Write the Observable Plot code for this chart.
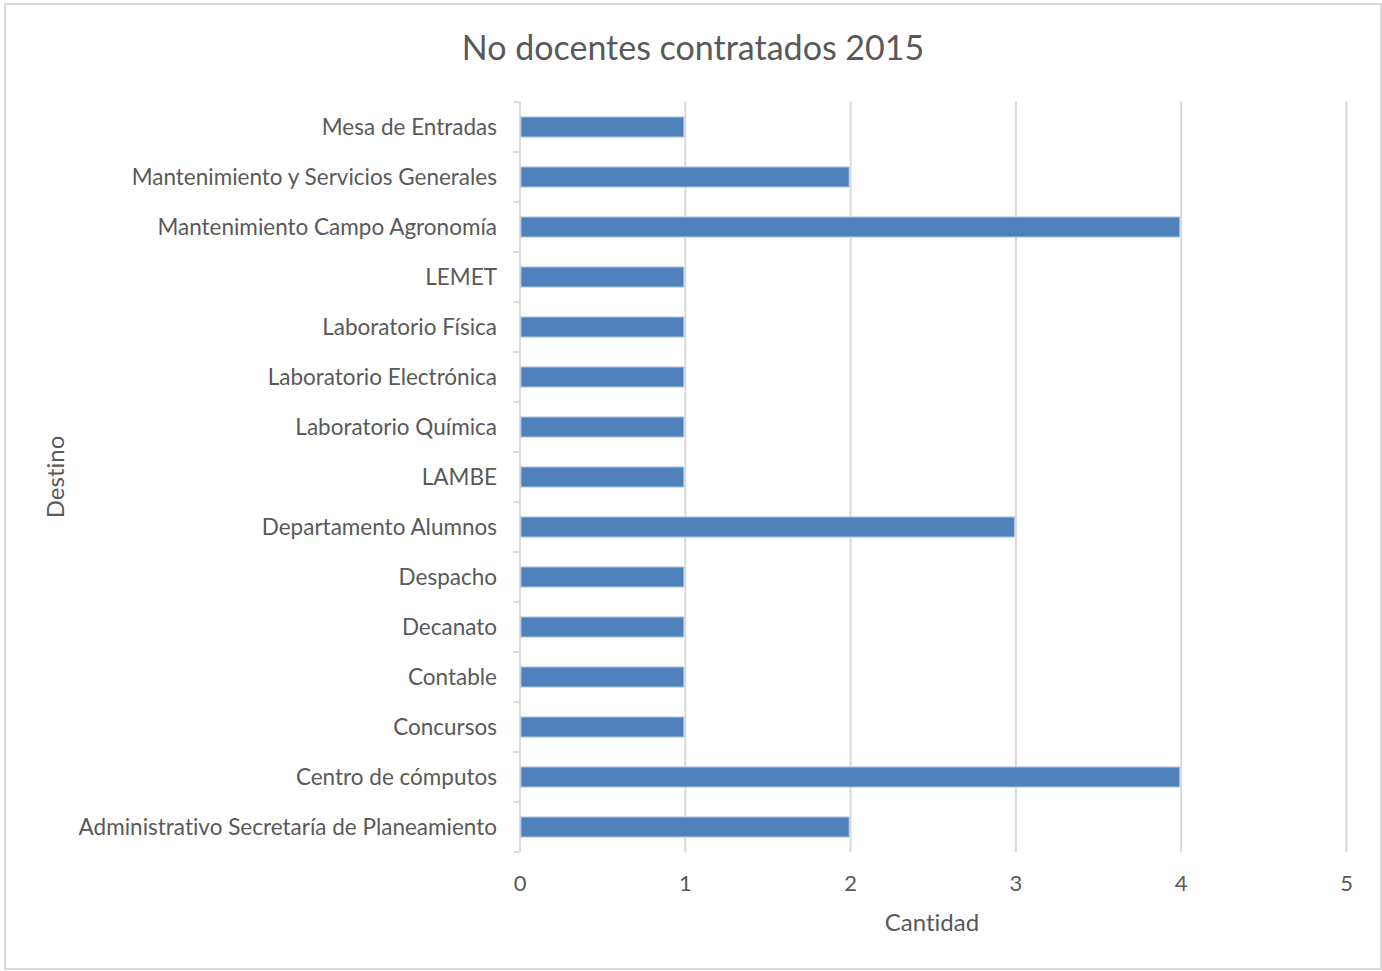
<!DOCTYPE html>
<html><head><meta charset="utf-8">
<script src="https://cdn.jsdelivr.net/npm/d3@7"></script>
<script src="https://cdn.jsdelivr.net/npm/@observablehq/plot@0.6"></script>
<style>
body{margin:0;background:#fff;}
#wrap{position:relative;width:1382px;height:971px;overflow:hidden;font-family:Lato,"Open Sans",sans-serif;color:#595959;font-variant-ligatures:none;}
#border{position:absolute;left:4px;top:3px;width:1378px;height:967px;border:2px solid #d9d9d9;box-sizing:border-box;}
#chart{position:absolute;left:0;top:0;}
#chart svg text{font-variant-ligatures:none;}
.lbl{position:absolute;white-space:nowrap;line-height:1;}
#title{left:693px;top:47px;transform:translate(-50%,-50%);font-size:34px;}
#xlab{left:932px;top:922px;transform:translate(-50%,-50%);font-size:24px;}
#ylab{left:55px;top:477px;transform:translate(-50%,-50%) rotate(-90deg);font-size:24px;}
</style></head>
<body>
<div id="wrap">
  <div id="border"></div>
  <div id="chart"></div>
  <div class="lbl" id="title">No docentes contratados 2015</div>
  <div class="lbl" id="xlab">Cantidad</div>
  <div class="lbl" id="ylab">Destino</div>
</div>
<script>
const categories = [
  "Mesa de Entradas",
  "Mantenimiento y Servicios Generales",
  "Mantenimiento Campo Agronomía",
  "LEMET",
  "Laboratorio Física",
  "Laboratorio Electrónica",
  "Laboratorio Química",
  "LAMBE",
  "Departamento Alumnos",
  "Despacho",
  "Decanato",
  "Contable",
  "Concursos",
  "Centro de cómputos",
  "Administrativo Secretaría de Planeamiento"
];
const values = [1, 2, 4, 1, 1, 1, 1, 1, 3, 1, 1, 1, 1, 4, 2];
const xTicks = [0, 1, 2, 3, 4, 5];
const gridTicks = [1, 2, 3, 4, 5];

const data = categories.map((c, i) => ({cat: c, value: values[i]}));

const chart = Plot.plot({
  width: 1382,
  height: 971,
  marginLeft: 519.5,
  marginRight: 36,
  marginTop: 101.5,
  marginBottom: 119,
  style: {fontFamily: "Lato, 'Open Sans', sans-serif", fontSize: "22.5px", color: "#595959", background: "transparent"},
  x: {domain: [0, 5], ticks: xTicks},
  y: {domain: categories, paddingInner: 0.6, paddingOuter: 0.3},
  marks: [
    Plot.ruleX(gridTicks, {stroke: "#d9d9d9", strokeWidth: 2}),
    Plot.ruleX([0], {stroke: "#d9d9d9", strokeWidth: 2}),
    Plot.barX(data, {x: "value", y: "cat", fill: "#4f81bd", stroke: "#a9c2e0", strokeWidth: 1, insetLeft: 1.5, insetRight: 1}),
    Plot.axisX({ticks: xTicks, tickFormat: d3.format("d"), tickSize: 0, tickPadding: 23, label: null, fontSize: 22}),
    Plot.axisY({tickSize: 0, tickPadding: 23, label: null, fontSize: 22.5})
  ]
});
document.getElementById("chart").appendChild(chart);

// band boundary ticks on the category axis
const ys = chart.scale("y");
const xs = chart.scale("x");
const x0 = xs.apply(0);
const bounds = categories.map(c => ys.apply(c) + ys.bandwidth / 2 - ys.step / 2);
bounds.push(ys.apply(categories[categories.length - 1]) + ys.bandwidth / 2 + ys.step / 2);
d3.select(chart).append("g")
  .selectAll("line").data(bounds).join("line")
  .attr("x1", x0 - 6).attr("x2", x0)
  .attr("y1", d => d).attr("y2", d => d)
  .attr("stroke", "#d9d9d9").attr("stroke-width", 2);
</script>
</body></html>
